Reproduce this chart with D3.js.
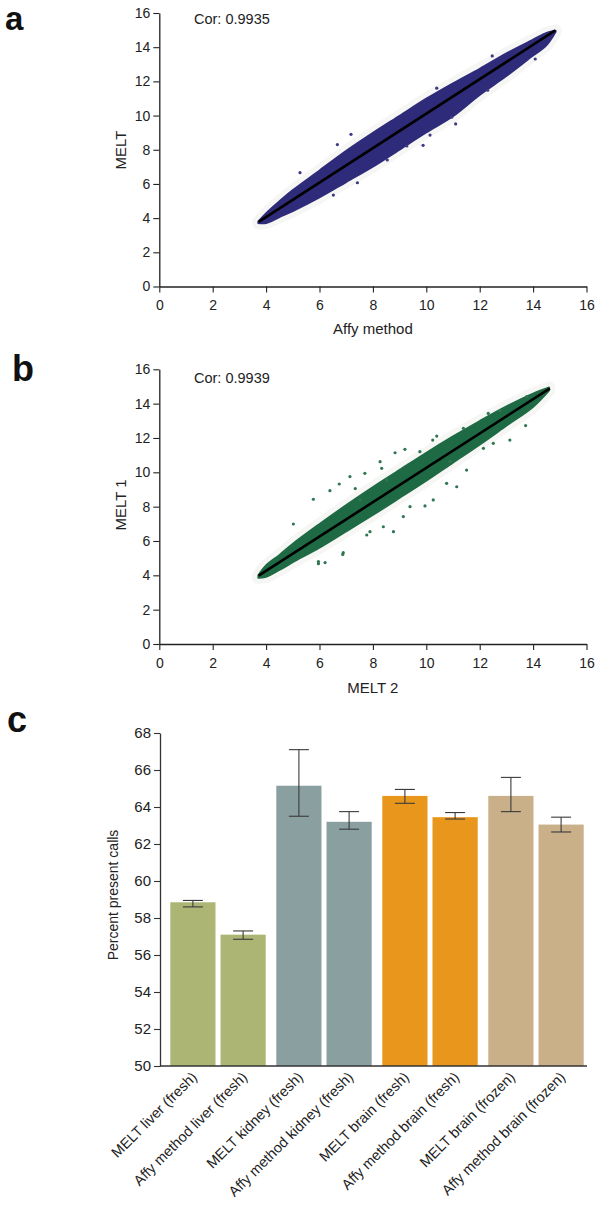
<!DOCTYPE html>
<html><head><meta charset="utf-8">
<script src="https://cdn.jsdelivr.net/npm/d3@7"></script>
<style>
body{margin:0;background:#fff}
svg text{font-family:"Liberation Sans",Arial,Helvetica,sans-serif;fill:#222}
</style>
</head><body>
<svg id="chart" width="600" height="1210"></svg>
<script>
// ---------- data ----------
const scatterTicks = [0, 2, 4, 6, 8, 10, 12, 14, 16];

// panel a: Affy method vs MELT (cloud envelope)
const aEnvX     = [3.7, 4.0, 4.5, 5.0, 6.0, 7.0, 8.0, 9.0, 10.0, 11.0, 12.0, 13.0, 14.0, 14.5, 14.85];
const aEnvUpper = [3.8, 4.3, 5.0, 5.65, 6.8, 7.95, 9.0, 10.0, 11.0, 11.9, 12.75, 13.65, 14.45, 14.85, 14.98];
const aEnvLower = [3.7, 3.7, 4.05, 4.4, 5.2, 6.1, 7.0, 8.0, 9.0, 9.95, 11.2, 12.3, 13.5, 14.1, 14.9];
const aFitX = [3.72, 14.83];
const aFitY = [3.78, 14.98];
const aOutX = [5.27, 6.67, 7.18, 12.47, 14.08, 12.30, 11.10, 10.95, 9.88, 10.14, 9.27, 8.54, 7.42, 6.52, 10.39];
const aOutY = [6.66, 8.30, 8.90, 13.49, 13.31, 11.48, 9.51, 9.90, 8.26, 8.86, 8.22, 7.40, 6.07, 5.35, 11.60];
const aCor = "Cor: 0.9935";

// panel b: MELT 2 vs MELT 1
const bEnvX     = [3.7, 4.0, 4.5, 5.0, 6.0, 7.0, 8.0, 9.0, 10.0, 11.0, 12.0, 13.0, 14.0, 14.6];
const bEnvUpper = [4.0, 4.6, 5.2, 5.85, 7.0, 8.1, 9.15, 10.15, 11.15, 12.1, 13.0, 13.85, 14.6, 14.95];
const bEnvLower = [3.85, 3.9, 4.3, 4.75, 5.6, 6.55, 7.5, 8.5, 9.5, 10.55, 11.6, 12.7, 13.8, 14.75];
const bFitX = [3.72, 14.63];
const bFitY = [3.98, 14.89];
const bOutX = [5.02, 5.77, 6.39, 6.74, 7.34, 7.70, 8.27, 8.83, 9.20, 10.24, 10.39, 11.39, 12.32, 12.76, 13.76,
               6.21, 6.89, 7.77, 7.89, 8.39, 8.77, 9.14, 9.39, 9.95, 10.26, 11.14, 10.76, 11.51, 12.51, 13.13,
               13.72, 12.14, 5.96, 5.33, 8.33, 7.14, 9.76, 10.89, 8.52, 7.52, 5.96, 6.87];
const bOutY = [6.99, 8.43, 8.93, 9.32, 9.05, 9.94, 10.62, 11.14, 11.34, 11.88, 12.11, 12.56, 13.43, 13.59, 14.41,
               4.74, 5.32, 6.35, 6.54, 6.83, 6.54, 7.42, 8.00, 8.04, 8.39, 9.16, 9.36, 10.13, 11.69, 11.88,
               12.72, 11.40, 4.80, 5.67, 10.23, 9.75, 11.20, 10.62, 9.55, 8.39, 4.68, 5.22];
const bCor = "Cor: 0.9939";

// panel c: percent present calls
const barCategories = ["MELT liver (fresh)", "Affy method liver (fresh)", "MELT kidney (fresh)",
  "Affy method kidney (fresh)", "MELT brain (fresh)", "Affy method brain (fresh)",
  "MELT brain (frozen)", "Affy method brain (frozen)"];
const barGroups = ["liver (fresh)", "kidney (fresh)", "brain (fresh)", "brain (frozen)"];
const barValues  = [58.85, 57.1, 65.15, 63.2, 64.6, 63.45, 64.6, 63.05];
const barErrLow  = [58.6, 56.85, 63.5, 62.8, 64.2, 63.35, 63.75, 62.65];
const barErrHigh = [58.95, 57.3, 67.1, 63.75, 64.95, 63.7, 65.6, 63.45];
const barTicks = [50, 52, 54, 56, 58, 60, 62, 64, 66, 68];

// ---------- styles ----------
const groupColors = ["#adb574", "#8a9fa0", "#e8961c", "#c9b089"];

const svg = d3.select("#chart");
svg.append("rect").attr("width", 600).attr("height", 1210).attr("fill", "#fff");

function panelLetter(t, x, y, size) {
  svg.append("text").attr("x", x).attr("y", y).text(t)
    .style("font-size", size + "px").style("font-weight", "bold").style("fill", "#111");
}

function scatterPanel(o) {
  const x = d3.scaleLinear().domain([0, 16]).range([159.3, 586.5]);
  const y = d3.scaleLinear().domain([0, 16]).range([o.y0, o.y16]);
  const g = svg.append("g");

  const env = o.envX.map((v, i) => ({x: v, u: o.envU[i], l: o.envL[i]}));
  const area = d3.area().x(d => x(d.x)).y0(d => y(d.l)).y1(d => y(d.u)).curve(d3.curveCatmullRom);
  // faint halo
  g.append("path").datum(env).attr("d", area)
    .attr("fill", "#f6f6f4").attr("stroke", "#f6f6f4").attr("stroke-width", 12).attr("stroke-linejoin", "round");
  g.append("path").datum(env).attr("d", area)
    .attr("fill", o.color).attr("stroke", o.color).attr("stroke-width", 1.5).attr("stroke-linejoin", "round");

  g.selectAll("circle.out").data(o.outX.map((v, i) => [v, o.outY[i]])).join("circle")
    .attr("cx", d => x(d[0])).attr("cy", d => y(d[1])).attr("r", 1.6)
    .attr("fill", o.dotColor);

  g.append("path").datum(o.fitX.map((v, i) => [v, o.fitY[i]]))
    .attr("d", d3.line().x(d => x(d[0])).y(d => y(d[1])))
    .attr("stroke", "#000").attr("stroke-width", 2.6).attr("fill", "none");

  const ax = g.append("g").attr("transform", `translate(0,${y(0)})`)
    .call(d3.axisBottom(x).tickValues(scatterTicks).tickSize(6).tickPadding(8).tickSizeOuter(0));
  const ay = g.append("g").attr("transform", `translate(${x(0)},0)`)
    .call(d3.axisLeft(y).tickValues(scatterTicks).tickSize(6).tickPadding(3).tickSizeOuter(0));
  [ax, ay].forEach(a => {
    a.select(".domain").attr("stroke", "#222").attr("stroke-width", 1.3);
    a.selectAll(".tick line").attr("stroke", "#222").attr("stroke-width", 1.1);
    a.selectAll(".tick text").style("font-size", "14px").style("fill", "#222");
  });

  g.append("text").attr("x", x(8)).attr("y", o.xTitleY).attr("text-anchor", "middle")
    .style("font-size", "15px").text(o.xTitle);
  g.append("text").attr("transform", `translate(126,${o.yTitleC}) rotate(-90)`).attr("text-anchor", "middle")
    .style("font-size", "15px").text(o.yTitle);
  g.append("text").attr("x", 194).attr("y", o.corY).style("font-size", "14.5px").text(o.cor);
}

panelLetter("a", 5, 30, 33);
scatterPanel({y0: 286.5, y16: 13, envX: aEnvX, envU: aEnvUpper, envL: aEnvLower,
  fitX: aFitX, fitY: aFitY, outX: aOutX, outY: aOutY, color: "#2e2b7a", dotColor: "#3d3a85",
  xTitle: "Affy method", xTitleY: 334, yTitle: "MELT", yTitleC: 150, cor: aCor, corY: 24});

panelLetter("b", 12, 381, 36);
scatterPanel({y0: 644, y16: 369.3, envX: bEnvX, envU: bEnvUpper, envL: bEnvLower,
  fitX: bFitX, fitY: bFitY, outX: bOutX, outY: bOutY, color: "#1e6a44", dotColor: "#2f7550",
  xTitle: "MELT 2", xTitleY: 693, yTitle: "MELT 1", yTitleC: 505, cor: bCor, corY: 383});

// ---------- panel c ----------
panelLetter("c", 7, 732, 36);
{
  const y = d3.scaleLinear().domain([50, 68]).range([1066, 733]);
  const xg = d3.scaleBand().domain(barGroups).range([165, 589]).paddingInner(0.1).paddingOuter(0.05);
  const xi = d3.scaleBand().domain([0, 1]).range([0, xg.bandwidth()]).paddingInner(0.1);
  const g = svg.append("g");
  const bars = barCategories.map((c, i) => ({
    c, v: barValues[i], lo: barErrLow[i], hi: barErrHigh[i],
    grp: barGroups[Math.floor(i / 2)], k: i % 2, gi: Math.floor(i / 2)
  }));
  const bx = d => xg(d.grp) + xi(d.k);

  g.selectAll("rect.bar").data(bars).join("rect")
    .attr("x", bx).attr("width", xi.bandwidth())
    .attr("y", d => y(d.v)).attr("height", d => y(50) - y(d.v))
    .attr("fill", d => groupColors[d.gi]);

  const cap = 10;
  const eb = g.selectAll("g.err").data(bars).join("g")
    .attr("transform", d => `translate(${bx(d) + xi.bandwidth() / 2},0)`);
  eb.append("line").attr("y1", d => y(d.lo)).attr("y2", d => y(d.hi))
    .attr("stroke", "#3a3a3a").attr("stroke-width", 1.1);
  eb.append("line").attr("x1", -cap).attr("x2", cap).attr("y1", d => y(d.hi)).attr("y2", d => y(d.hi))
    .attr("stroke", "#3a3a3a").attr("stroke-width", 1.1);
  eb.append("line").attr("x1", -cap).attr("x2", cap).attr("y1", d => y(d.lo)).attr("y2", d => y(d.lo))
    .attr("stroke", "#3a3a3a").attr("stroke-width", 1.1);

  const ay = g.append("g").attr("transform", "translate(160,0)")
    .call(d3.axisLeft(y).tickValues(barTicks).tickSize(6).tickPadding(3).tickSizeOuter(0));
  ay.select(".domain").attr("stroke", "#333").attr("stroke-width", 1.3);
  ay.selectAll(".tick line").attr("stroke", "#333").attr("stroke-width", 1.1);
  ay.selectAll(".tick text").style("font-size", "15px").style("fill", "#222");

  g.append("line").attr("x1", 160).attr("x2", 587).attr("y1", y(50)).attr("y2", y(50))
    .attr("stroke", "#333").attr("stroke-width", 1.3);

  g.selectAll("text.xl").data(bars).join("text")
    .attr("transform", d => `translate(${bx(d) + xi.bandwidth() / 2 + 5},${y(50) + 12}) rotate(-45)`)
    .attr("text-anchor", "end").style("font-size", "14.5px").text(d => d.c);

  g.append("text").attr("transform", "translate(118,895) rotate(-90)").attr("text-anchor", "middle")
    .style("font-size", "14px").text("Percent present calls");
}
</script>
</body></html>
